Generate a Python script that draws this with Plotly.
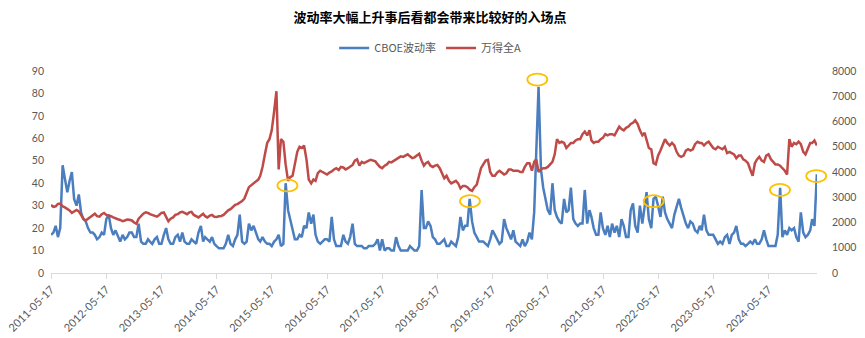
import pandas as pd
import plotly.graph_objects as go

# ---------------- data (semi-monthly samples, 1st and 16th of each month) ----------------
start_date = "2011-05-16"
end_date = "2025-04-02"

vix = [
    # 2011 (May16 .. Dec16)
    17, 18, 21, 16, 20, 48, 42, 36, 41, 45, 33, 30, 35, 27, 24,
    # 2012
    23, 20, 18, 18, 17, 15, 16, 18, 17, 24, 26, 20, 17, 19, 16, 14, 17, 15, 16, 18, 18, 16, 16, 22,
    # 2013
    14, 13, 13, 15, 14, 13, 15, 16, 13, 13, 17, 20, 15, 13, 13, 16, 17, 14, 18, 14, 13, 13, 15, 14,
    # 2014
    13, 18, 21, 14, 16, 15, 14, 16, 13, 12, 11, 11, 11, 13, 17, 13, 12, 15, 17, 26, 14, 13, 14, 22,
    # 2015
    19, 21, 18, 15, 14, 16, 14, 13, 13, 12, 14, 15, 17, 12, 13, 40, 28, 24, 20, 15, 15, 17, 16, 21,
    # 2016
    20, 27, 22, 26, 17, 14, 13, 14, 15, 15, 14, 25, 15, 12, 12, 12, 17, 14, 13, 16, 22, 13, 12, 12,
    # 2017
    12, 11, 11, 12, 12, 12, 13, 15, 10, 15, 10, 11, 11, 10, 10, 16, 12, 10, 10, 10, 10, 12, 11, 10,
    # 2018
    10, 12, 37, 20, 20, 23, 21, 16, 15, 13, 13, 14, 15, 12, 12, 14, 13, 12, 16, 25, 19, 21, 21, 33,
    # 2019
    23, 18, 16, 14, 14, 14, 13, 12, 15, 19, 17, 15, 13, 14, 24, 20, 17, 15, 19, 14, 13, 12, 15, 12,
    # 2020
    14, 18, 15, 27, 54, 83, 46, 38, 33, 28, 26, 40, 28, 25, 23, 22, 33, 27, 28, 38, 24, 22, 21, 22,
    # 2021
    22, 37, 22, 28, 25, 20, 17, 17, 27, 20, 17, 21, 16, 22, 18, 21, 16, 24, 21, 16, 16, 28, 31, 21,
    # 2022
    18, 30, 22, 30, 36, 24, 20, 33, 34, 30, 25, 34, 27, 24, 22, 20, 26, 30, 33, 29, 25, 22, 20, 23,
    # 2023
    22, 19, 18, 21, 19, 26, 19, 17, 17, 17, 15, 13, 14, 13, 16, 17, 13, 17, 18, 21, 15, 13, 13, 12,
    # 2024
    13, 14, 13, 15, 13, 13, 15, 19, 15, 12, 12, 12, 12, 17, 38, 16, 19, 17, 20, 19, 20, 16, 14, 27,
    # 2025 (Jan1 .. Apr1)
    18, 16, 17, 19, 24, 21, 44,
]

wind_a = [
    # 2011
    2690, 2620, 2640, 2740, 2750, 2640, 2600, 2540, 2480, 2380, 2450, 2500, 2440, 2300, 2150,
    # 2012
    2080, 2150, 2200, 2300, 2350, 2250, 2230, 2330, 2380, 2300, 2280, 2250, 2200, 2150, 2130, 2100,
    2050, 2080, 2120, 2110, 2080, 2000, 1950, 2150,
    # 2013
    2250, 2350, 2400, 2380, 2330, 2300, 2250, 2230, 2300, 2380, 2400, 2200, 2050, 2150, 2200, 2300,
    2330, 2400, 2420, 2380, 2330, 2400, 2420, 2300,
    # 2014
    2250, 2200, 2280, 2350, 2250, 2200, 2270, 2300, 2230, 2220, 2250, 2260, 2300, 2400, 2480, 2530,
    2620, 2700, 2730, 2780, 2850, 2950, 3200, 3400,
    # 2015
    3480, 3550, 3600, 3700, 3850, 4200, 4700, 5150, 5300, 5650, 6400, 7200, 4100, 5300, 5200, 4300,
    3650, 3800, 3850, 4350, 4800, 5000, 4950, 5050,
    # 2016
    4500, 3700, 3550, 3700, 3650, 3950, 4050, 4000, 3950, 3900, 3980, 4020, 4100, 4150, 4080, 4200,
    4180, 4100, 4150, 4230, 4280, 4450, 4500, 4250,
    # 2017
    4400, 4350, 4420, 4450, 4480, 4450, 4420, 4300, 4200, 4150, 4250, 4300, 4400, 4380, 4450, 4500,
    4580, 4620, 4600, 4650, 4700, 4620, 4550, 4580,
    # 2018
    4650, 4720, 4450, 4250, 4350, 4400, 4250, 4200, 4250, 4280, 4150, 3950, 3750, 3850, 3650, 3550,
    3600, 3650, 3550, 3350, 3450, 3450, 3400, 3300,
    # 2019
    3250, 3400, 3500, 3800, 4150, 4300, 4450, 4480, 4000, 3850, 3850, 3980, 4050, 3980, 3900, 3950,
    4100, 4100, 4050, 4050, 4050, 4000, 4000, 4200,
    # 2020
    4350, 4350, 4050, 4400, 4500, 4000, 4100, 4150, 4150, 4200, 4300, 4400, 4700, 5300, 5150, 5200,
    5150, 4950, 5050, 5150, 5150, 5250, 5300, 5300,
    # 2021
    5500, 5600, 5450, 5650, 5250, 5150, 5200, 5200, 5300, 5350, 5500, 5450, 5500, 5500, 5450, 5650,
    5800, 5700, 5650, 5750, 5800, 5900, 5950, 6050,
    # 2022
    5900, 5650, 5450, 5550, 5300, 4950, 4900, 4350, 4300, 4650, 4850, 5100, 5300, 5150, 5050, 5150,
    5050, 4800, 4650, 4600, 4650, 4850, 4900, 4850,
    # 2023
    4900, 5100, 5200, 5150, 5150, 5050, 5150, 5200, 5050, 4950, 4900, 5000, 4950, 4900, 5000, 4750,
    4800, 4750, 4700, 4550, 4650, 4650, 4500, 4450,
    # 2024
    4350, 4100, 3850, 4350, 4500, 4600, 4450, 4400, 4650, 4700, 4500, 4400, 4300, 4300, 4250, 4150,
    4050, 3900, 5300, 5000, 5150, 5100, 5200, 5100,
    # 2025
    4800, 4700, 4900, 5150, 5150, 5250, 5050,
]

tick_labels = [f"{y}-05-17" for y in range(2011, 2025)]

# highlighted spikes (date, level on the left axis)
highlight_dates = ["2015-08-28", "2018-12-18", "2020-03-08", "2022-04-17", "2024-07-31", "2025-03-28"]
highlight_levels = [39, 32, 86.2, 32, 37, 43.2]

series_names = ["CBOE波动率", "万得全A"]
title_text = "波动率大幅上升事后看都会带来比较好的入场点"

Y_MAX = 90
Y2_MAX = 8000

# ---------------- figure ----------------
dates = pd.date_range(start_date, periods=len(vix), freq="SMS-16")
dates2 = pd.date_range(start_date, periods=len(wind_a), freq="SMS-16")

BLUE = "#4A7EBF"
RED = "#BE4B48"
TXT = "#595959"
NUM_FONT = "Lato, Liberation Sans, sans-serif"
CJK_FONT = "Noto Sans CJK SC, sans-serif"

fig = go.Figure()
fig.add_trace(go.Scatter(x=dates, y=vix, name=series_names[0], mode="lines",
                         line=dict(color=BLUE, width=2.5), yaxis="y"))
fig.add_trace(go.Scatter(x=dates2, y=wind_a, name=series_names[1], mode="lines",
                         line=dict(color=RED, width=2.5), yaxis="y2"))

# highlight ellipses (positioned through the axis scales, not clipped at plot edge)
t0 = pd.Timestamp(start_date)
t1 = pd.Timestamp(end_date)
for d, lv in zip(highlight_dates, highlight_levels):
    px = (pd.Timestamp(d) - t0) / (t1 - t0)
    py = lv / Y_MAX
    fig.add_shape(type="circle", xref="paper", yref="paper",
                  xsizemode="pixel", ysizemode="pixel",
                  xanchor=px, yanchor=py, x0=-10, x1=10, y0=-6, y1=6,
                  line=dict(color="#FFC000", width=1.8), fillcolor="rgba(0,0,0,0)")

fig.update_layout(
    template="none",
    width=865, height=338,
    margin=dict(l=51, r=48, t=71, b=65, autoexpand=False),
    paper_bgcolor="white", plot_bgcolor="white",
    title=dict(text=f"<b>{title_text}</b>", x=0.497, xanchor="center",
               y=0.947, yanchor="middle",
               font=dict(family=CJK_FONT, size=13, color="#000000")),
    legend=dict(orientation="h", x=0.495, xanchor="center", y=1.114, yanchor="middle",
                font=dict(family=CJK_FONT, size=11, color=TXT),
                itemwidth=30, tracegroupgap=0, bgcolor="rgba(0,0,0,0)"),
    showlegend=True,
    xaxis=dict(type="date", range=[start_date, end_date], automargin=False,
               tickvals=tick_labels, ticktext=tick_labels, tickangle=-45,
               showgrid=False, zeroline=False, showline=True, linecolor="#D9D9D9", linewidth=1,
               ticks="outside", ticklen=5, tickcolor="#D9D9D9",
               tickfont=dict(family=NUM_FONT, size=11, color=TXT)),
    yaxis=dict(range=[0, Y_MAX], dtick=10, showgrid=False, zeroline=False, showline=False,
               automargin=False, ticks="",
               tickfont=dict(family=NUM_FONT, size=10.5, color=TXT), ticklabelstandoff=6),
    yaxis2=dict(range=[0, Y2_MAX], dtick=1000, overlaying="y", side="right", automargin=False,
                showgrid=False, zeroline=False, showline=False, ticks="",
                tickfont=dict(family=NUM_FONT, size=10.5, color=TXT), ticklabelstandoff=14),
)

fig.write_html("out.html")
